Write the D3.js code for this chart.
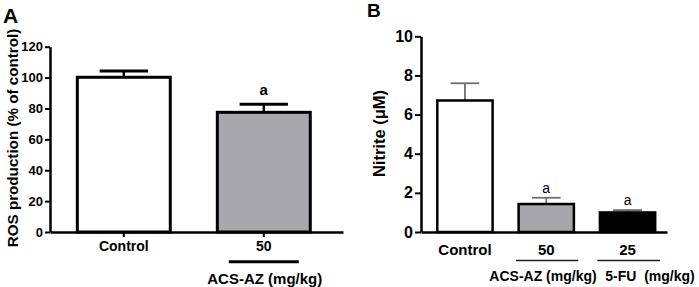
<html>
<head>
<script src="https://d3js.org/d3.v7.min.js"></script>
<style>
  body { margin: 0; background: #fff; }
  text { font-family: Arial, "Liberation Sans", sans-serif; }
</style>
</head>
<body>
<svg width="699" height="287"></svg>
<script>
// panel A data
var catsA = ["Control", "50"];
var rosMean = [100.2, 77.5];
var rosErr = [4.1, 5.2];
var sigA = ["", "a"];
var ticksA = [0, 20, 40, 60, 80, 100, 120];

// panel B data
var catsB = ["Control", "50", "25"];
var nitriteMean = [6.72, 1.43, 1.0];
var nitriteErr = [0.88, 0.32, 0.12];
var sigB = ["", "a", "a"];
var ticksB = [0, 2, 4, 6, 8, 10];

var svg = d3.select("svg");

// ------------------------------------------------------------------ A
var xA = d3.scaleBand().domain(catsA).range([50, 343])
  .paddingInner(0.336).paddingOuter(0.2145).align(0.455);
var yA = d3.scaleLinear().domain([0, 120]).range([232, 46.7]);
var fillA = ["#ffffff", "#a7a7ac"];

var gA = svg.append("g");

gA.selectAll(".errA").data(catsA).enter().append("g").each(function (d, i) {
  var cx = xA(d) + xA.bandwidth() / 2, cw = xA.bandwidth() * 0.26;
  var g = d3.select(this);
  g.append("line").attr("x1", cx).attr("x2", cx)
    .attr("y1", yA(rosMean[i])).attr("y2", yA(rosMean[i] + rosErr[i]))
    .attr("stroke", "#000").attr("stroke-width", 2.5);
  g.append("line").attr("x1", cx - cw).attr("x2", cx + cw)
    .attr("y1", yA(rosMean[i] + rosErr[i])).attr("y2", yA(rosMean[i] + rosErr[i]))
    .attr("stroke", "#000").attr("stroke-width", 3);
  g.append("text").attr("x", cx).attr("y", yA(rosMean[i] + rosErr[i]) - 9)
    .attr("text-anchor", "middle").attr("font-weight", "bold").attr("font-size", 15)
    .text(sigA[i]);
});

gA.selectAll("rect").data(catsA).enter().append("rect")
  .attr("x", function (d) { return xA(d); })
  .attr("y", function (d, i) { return yA(rosMean[i]); })
  .attr("width", xA.bandwidth())
  .attr("height", function (d, i) { return yA(0) - yA(rosMean[i]); })
  .attr("fill", function (d, i) { return fillA[i]; })
  .attr("stroke", "#000").attr("stroke-width", 3);

var yAxA = gA.append("g").attr("transform", "translate(50,0)")
  .call(d3.axisLeft(yA).tickValues(ticksA).tickSize(5).tickSizeOuter(0).tickPadding(2));
var xAxA = gA.append("g").attr("transform", "translate(0,232)")
  .call(d3.axisBottom(xA).tickSize(5).tickSizeOuter(0).tickPadding(4.5));
[yAxA, xAxA].forEach(function (ax) {
  ax.select(".domain").attr("stroke-width", 2.5);
  ax.selectAll(".tick line").attr("stroke-width", 2);
  ax.selectAll("text").attr("font-weight", "bold").attr("fill", "#000")
    .attr("font-family", "Arial, 'Liberation Sans', sans-serif");
});
yAxA.selectAll("text").attr("font-size", 13);
xAxA.selectAll("text").attr("font-size", 14);

gA.append("line").attr("x1", xA("50") + xA.bandwidth() / 2 - 35).attr("x2", xA("50") + xA.bandwidth() / 2 + 35)
  .attr("y1", 261.7).attr("y2", 261.7).attr("stroke", "#000").attr("stroke-width", 3);
gA.append("text").attr("x", xA("50") + xA.bandwidth() / 2 + 1).attr("y", 283.5)
  .attr("text-anchor", "middle").attr("font-weight", "bold").attr("font-size", 15)
  .text("ACS-AZ (mg/kg)");

gA.append("text").attr("transform", "translate(18,138) rotate(-90)")
  .attr("text-anchor", "middle").attr("font-weight", "bold").attr("font-size", 15.2)
  .text("ROS production (% of control)");

gA.append("text").attr("x", 3).attr("y", 22.7).attr("font-weight", "bold").attr("font-size", 21)
  .text("A");

// ------------------------------------------------------------------ B
var xB = d3.scaleBand().domain(catsB).range([421, 667])
  .paddingInner(0.32).paddingOuter(0.173).align(0.58);
var yB = d3.scaleLinear().domain([0, 10]).range([232, 36.3]);
var fillB = ["#ffffff", "#a5a5aa", "#000000"];

var gB = svg.append("g");

gB.selectAll(".errB").data(catsB).enter().append("g").each(function (d, i) {
  var cx = xB(d) + xB.bandwidth() / 2, cw = xB.bandwidth() * 0.26;
  var g = d3.select(this);
  g.append("line").attr("x1", cx).attr("x2", cx)
    .attr("y1", yB(nitriteMean[i])).attr("y2", yB(nitriteMean[i] + nitriteErr[i]))
    .attr("stroke", "#6e6e6e").attr("stroke-width", 1.8);
  g.append("line").attr("x1", cx - cw).attr("x2", cx + cw)
    .attr("y1", yB(nitriteMean[i] + nitriteErr[i])).attr("y2", yB(nitriteMean[i] + nitriteErr[i]))
    .attr("stroke", "#6e6e6e").attr("stroke-width", 1.8);
  g.append("text").attr("x", cx).attr("y", yB(nitriteMean[i] + nitriteErr[i]) - 5)
    .attr("text-anchor", "middle").attr("font-size", 14)
    .text(sigB[i]);
});

gB.selectAll("rect").data(catsB).enter().append("rect")
  .attr("x", function (d) { return xB(d); })
  .attr("y", function (d, i) { return yB(nitriteMean[i]); })
  .attr("width", xB.bandwidth())
  .attr("height", function (d, i) { return yB(0) - yB(nitriteMean[i]); })
  .attr("fill", function (d, i) { return fillB[i]; })
  .attr("stroke", "#000").attr("stroke-width", 2.5);

var yAxB = gB.append("g").attr("transform", "translate(421,0)")
  .call(d3.axisLeft(yB).tickValues(ticksB).tickSize(6).tickSizeOuter(0).tickPadding(2));
var xAxB = gB.append("g").attr("transform", "translate(0,232)")
  .call(d3.axisBottom(xB).tickSize(0).tickSizeOuter(0).tickPadding(12));
[yAxB, xAxB].forEach(function (ax) {
  ax.select(".domain").attr("stroke-width", 2.5);
  ax.selectAll(".tick line").attr("stroke-width", 2);
  ax.selectAll("text").attr("font-weight", "bold").attr("fill", "#000")
    .attr("font-family", "Arial, 'Liberation Sans', sans-serif");
});
yAxB.selectAll("text").attr("font-size", 16);
xAxB.selectAll("text").attr("font-size", 15);

var groupsB = [{ label: "ACS-AZ (mg/kg)", cat: "50", x1: 516, x2: 578.3, tx: 543 },
               { label: "5-FU\u00a0 (mg/kg)", cat: "25", x1: 597.3, x2: 660, tx: 650 }];
groupsB.forEach(function (gr) {
  gB.append("line").attr("x1", gr.x1).attr("x2", gr.x2).attr("y1", 260.5).attr("y2", 260.5)
    .attr("stroke", "#222").attr("stroke-width", 1.5);
  gB.append("text").attr("x", gr.tx).attr("y", 281).attr("text-anchor", "middle")
    .attr("font-weight", "bold").attr("font-size", 14).text(gr.label);
});

gB.append("text").attr("transform", "translate(385,133.5) rotate(-90)")
  .attr("text-anchor", "middle").attr("font-weight", "bold").attr("font-size", 16.5)
  .text("Nitrite (\u03bcM)");

gB.append("text").attr("x", 367).attr("y", 17).attr("font-weight", "bold").attr("font-size", 19)
  .text("B");
</script>
</body>
</html>
